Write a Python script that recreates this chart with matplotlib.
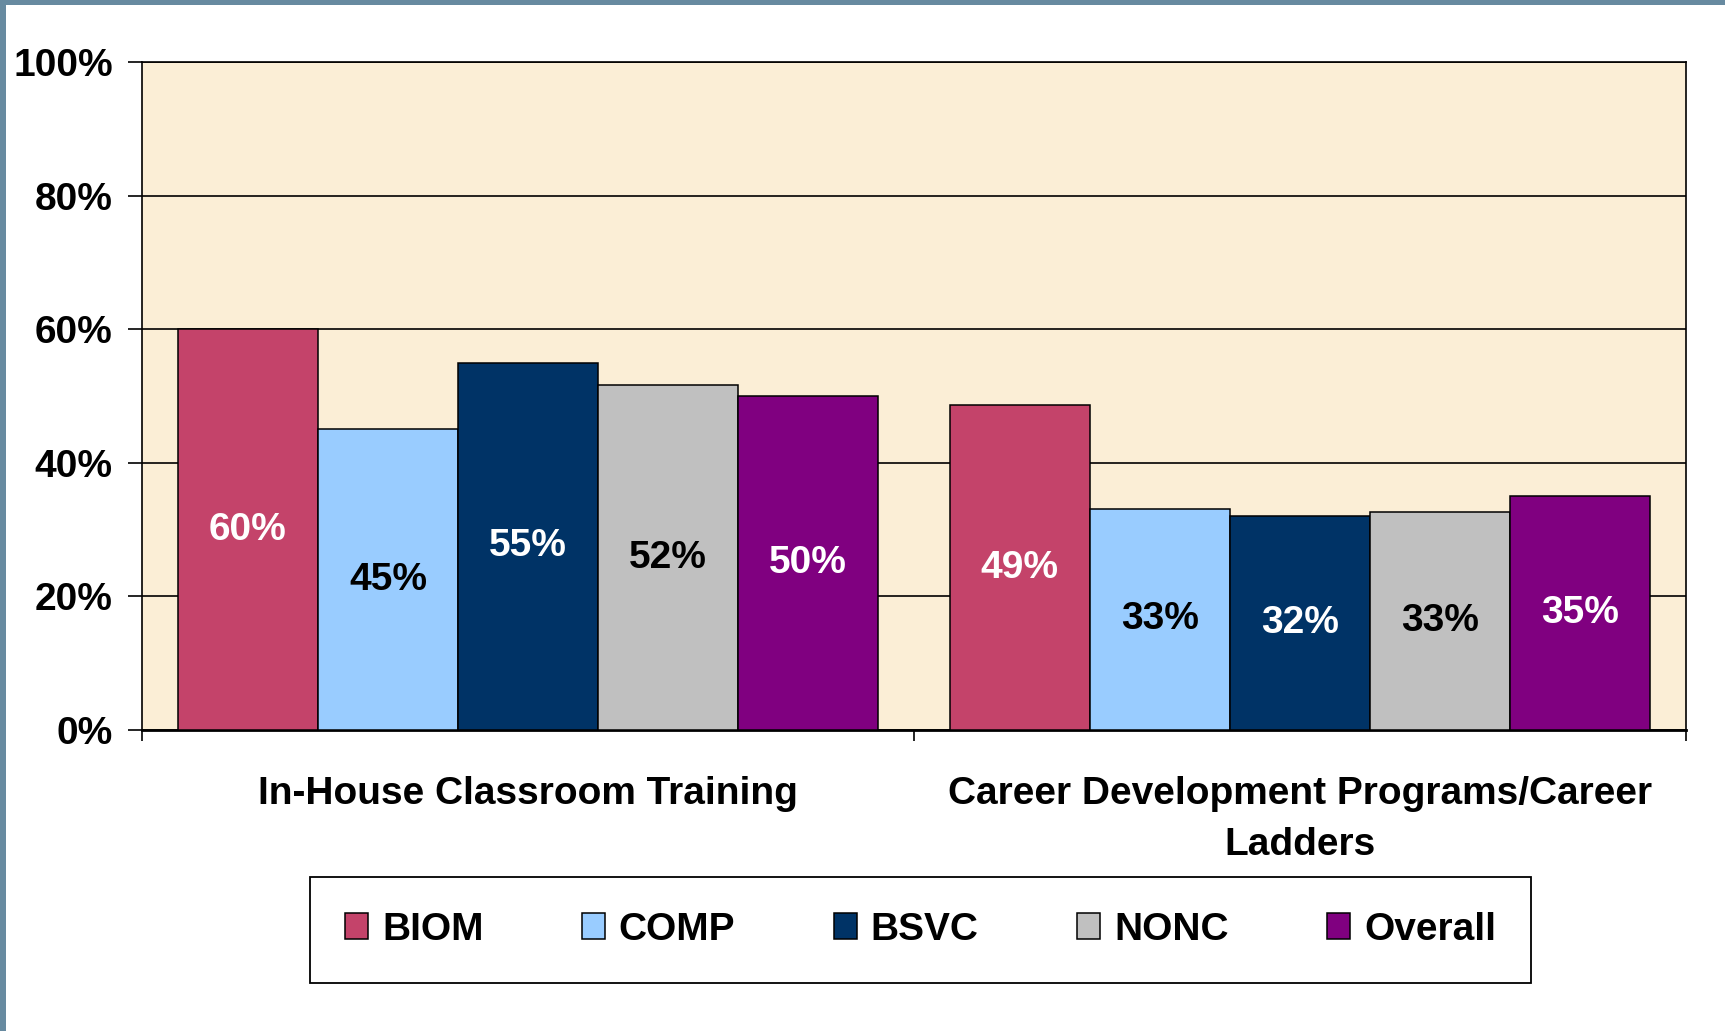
import matplotlib
matplotlib.use('Agg')
import matplotlib.pyplot as plt
import numpy as np
from matplotlib.patches import Rectangle

# ---- data ----
categories = ["In-House Classroom Training", "Career Development Programs/Career\nLadders"]
series_names = ["BIOM", "COMP", "BSVC", "NONC", "Overall"]
biom = [0.60, 0.486]
comp = [0.45, 0.331]
bsvc = [0.55, 0.32]
nonc = [0.516, 0.326]
overall = [0.50, 0.35]
ytick_values = [0, 0.2, 0.4, 0.6, 0.8, 1.0]
ytick_labels = ["0%", "20%", "40%", "60%", "80%", "100%"]

# ---- style ----
colors = ['#C4436A', '#99CCFF', '#003366', '#C0C0C0', '#800080']
label_colors = ['white', 'black', 'white', 'black', 'white']
plt.rcParams['font.family'] = ['Liberation Sans', 'DejaVu Sans']
plt.rcParams['font.weight'] = 'bold'
FS = 28

fig = plt.figure(figsize=(17.25, 10.31), dpi=100)
ax = fig.add_axes([142 / 1725, 1 - 730 / 1031, (1686 - 142) / 1725, (730 - 62) / 1031])

x = np.arange(len(categories))
w = 0.1815
handles = []
for i, (name, vals) in enumerate(zip(series_names, [biom, comp, bsvc, nonc, overall])):
    bars = ax.bar(x + (i - 2) * w, vals, w, color=colors[i], edgecolor='black',
                  linewidth=1.1, zorder=3, label=name)
    ax.bar_label(bars, labels=[f"{v:.0%}" for v in vals], label_type='center',
                 color=label_colors[i], fontsize=FS, fontweight='bold', zorder=4)
    handles.append(bars)

ax.set_xlim(-0.5, 1.5)
ax.set_ylim(0, 1)
ax.set_yticks(ytick_values)
ax.set_yticklabels(ytick_labels, fontsize=FS, fontweight='bold')
ax.set_xticks([-0.5, 0.5, 1.5])
ax.set_xticklabels([])
ax.tick_params(axis='y', length=10, width=1.2, pad=11, color='black')
ax.tick_params(axis='x', length=8, width=1.2, direction='out', color='black')
ax.set_facecolor('#FBEED6')
ax.grid(axis='y', color='black', linewidth=1.2, zorder=1)
ax.set_axisbelow(True)
for s in ax.spines.values():
    s.set_color('black')
    s.set_linewidth(1.2)
ax.spines['bottom'].set_linewidth(2.0)

for xi, cat in zip(x, categories):
    ax.text(xi, -0.069, cat, transform=ax.get_xaxis_transform(), ha='center', va='top',
            fontsize=FS, fontweight='bold', linespacing=1.55)

leg = fig.legend(handles, series_names, loc='center',
                 bbox_to_anchor=(310 / 1725, 1 - 985 / 1031, 1221 / 1725, 111 / 1031),
                 mode='expand', ncol=5, prop={'size': FS, 'weight': 'bold'},
                 frameon=True, fancybox=False, edgecolor='black', framealpha=1,
                 borderpad=0.9, handlelength=0.6, handleheight=0.65,
                 handletextpad=0.35, borderaxespad=0)
leg.get_frame().set_linewidth(1.3)

# outer frame bands
fig.patches.append(Rectangle((0, 1 - 5 / 1031), 1, 5 / 1031, transform=fig.transFigure,
                             facecolor='#678AA0', edgecolor='none', zorder=10))
fig.patches.append(Rectangle((0, 0), 6 / 1725, 1, transform=fig.transFigure,
                             facecolor='#678AA0', edgecolor='none', zorder=10))

fig.savefig('out.png', dpi=100)
